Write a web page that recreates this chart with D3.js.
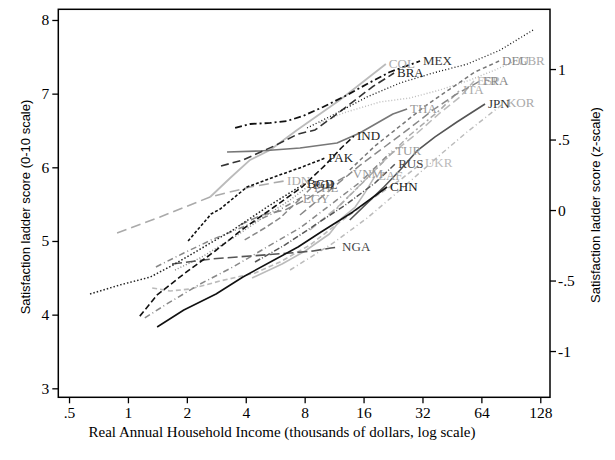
<!DOCTYPE html>
<html><head><meta charset="utf-8">
<script src="https://cdn.jsdelivr.net/npm/d3@7"></script>
<style>body{margin:0;background:#fff}svg{display:block}</style>
</head><body><svg id="c" width="615" height="460"></svg>
<script>
// ---- data: [income (thousands $), satisfaction ladder score] ----
const xTicks = [0.5, 1, 2, 4, 8, 16, 32, 64, 128];
const xTickLabels = [".5", "1", "2", "4", "8", "16", "32", "64", "128"];
const yTicks = [3, 4, 5, 6, 7, 8];
const zTicks = [-1, -0.5, 0, 0.5, 1];
const zTickLabels = ["-1", "-.5", "0", ".5", "1"];
const zMean = 5.42, zSd = 1.914;

const USA = [[8.23,6.534],[11.17,6.71],[16.67,6.955],[24.6,7.145],[36.2,7.28],[54.0,7.40],[79.7,7.59],[120,7.878]];
const COL = [[2.63,5.597],[3.33,5.855],[4.21,6.10],[5.33,6.235],[7.32,6.507],[12.1,6.914],[20.8,7.403]];
const MEX = [[3.53,6.534],[4.21,6.588],[5.33,6.602],[6.50,6.629],[7.85,6.697],[9.93,6.819],[12.9,6.968],[16.66,7.131],[21.8,7.294],[31.1,7.443]];
const BRA = [[2.99,6.018],[3.87,6.10],[5.58,6.289],[7.40,6.452],[9.04,6.507],[11.7,6.724],[17.7,7.09],[22.9,7.28]];
const THA = [[3.21,6.208],[4.73,6.222],[7.57,6.262],[11.7,6.33],[15.3,6.466],[22.6,6.724],[26.7,6.792]];
const IND = [[1.15,3.98],[1.41,4.267],[1.93,4.552],[2.79,4.864],[3.87,5.163],[5.58,5.461],[7.76,5.733],[10.2,6.031],[12.3,6.262],[14.3,6.425]];
const PAK = [[2.03,5.0],[2.66,5.366],[2.96,5.434],[4.06,5.733],[5.58,5.869],[7.76,6.004],[10.2,6.127]];
const NGA = [[1.68,4.687],[2.66,4.755],[4.21,4.796],[6.74,4.837],[8.83,4.864],[10.9,4.905],[12.0,4.918]];
const CHN = [[1.41,3.832],[1.93,4.063],[2.82,4.28],[3.87,4.511],[5.58,4.742],[7.40,4.918],[9.70,5.122],[14.1,5.394],[21.1,5.733]];
const JPN = [[13.6,5.285],[20.1,5.72],[24.6,5.964],[30.0,6.222],[37.1,6.412],[48.0,6.615],[66.8,6.86]];
const KOR = [[6.74,4.606],[11.2,4.973],[16.7,5.312],[24.6,5.692],[39.3,6.167],[54.1,6.48],[83.5,6.873]];
const UKR = [[1.33,4.362],[1.64,4.321],[2.08,4.348],[2.96,4.457],[4.46,4.565],[5.99,4.715],[8.52,4.946],[12.1,5.258],[17.3,5.556],[24.6,5.828],[31.8,6.059]];
const TUR = [[1.22,3.955],[1.58,4.145],[2.34,4.416],[3.44,4.647],[5.14,4.918],[7.57,5.176],[10.8,5.488],[15.4,5.801],[22.4,6.222]];
const ZAF = [[4.31,4.497],[6.13,4.687],[8.04,4.864],[10.7,5.095],[12.4,5.312],[14.5,5.461],[16.3,5.66],[18.3,5.88]];
const RUS = [[4.46,4.715],[6.35,4.946],[9.04,5.217],[12.9,5.488],[18.3,5.787],[23.2,6.045]];
const VNM = [[3.74,5.217],[4.84,5.353],[6.35,5.421],[8.04,5.556],[10.2,5.719],[13.6,5.909]];
const EGY = [[3.95,5.014],[5.0,5.176],[5.99,5.312],[7.57,5.57]];
const PHL = [[1.39,4.647],[1.93,4.837],[2.66,5.013],[3.87,5.19],[5.58,5.38],[7.76,5.597],[8.62,5.719]];
const POL = [[1.74,4.606],[2.34,4.769],[3.44,5.04],[5.14,5.353],[6.74,5.556],[8.52,5.76]];
const BGD = [[0.64,4.28],[0.9,4.40],[1.30,4.51],[1.70,4.674],[2.34,4.89],[3.44,5.149],[5.14,5.461],[7.94,5.774]];
const IDN = [[0.88,5.108],[1.46,5.326],[2.63,5.597],[4.21,5.733],[6.28,5.814]];
const DEU = [[13.6,5.964],[18.3,6.29],[24.6,6.561],[33.0,6.832],[44.2,7.063],[59.4,7.294],[78.8,7.443]];
const FRA = [[7.57,5.353],[10.8,5.692],[15.4,6.031],[21.1,6.303],[27.6,6.534],[36.2,6.778],[46.9,6.982],[63.0,7.172]];
const ESP = [[8.52,5.149],[12.1,5.488],[16.3,5.828],[21.8,6.167],[29.3,6.439],[39.3,6.737],[49.8,6.955],[58.7,7.172]];
const ITA = [[10.8,5.353],[15.4,5.76],[20.6,6.099],[27.6,6.439],[39.3,6.778],[49.8,7.05]];
const GBR = [[9.59,6.602],[12.6,6.737],[19.4,6.887],[27.6,6.941],[39.3,7.05],[56.0,7.185],[75.1,7.321],[95.1,7.443]];

const countryCodes = ["UKR","ZAF","KOR","ESP","ITA","GBR","IDN","COL","TUR","PHL","POL","EGY","VNM","FRA","DEU","THA","NGA","JPN","RUS","BGD","BRA","PAK","IND","MEX","CHN","USA"];
const countryData = {USA,COL,MEX,BRA,THA,IND,PAK,NGA,CHN,JPN,KOR,UKR,TUR,ZAF,RUS,VNM,EGY,PHL,POL,BGD,IDN,DEU,FRA,ESP,ITA,GBR};
const unlabeled = ["USA"];

// ---- styles: stroke, dasharray, width, label colour ----
const styles = {
  USA:["#111","1,2.2",1.3,"#111"],
  COL:["#bbb",null,1.8,"#aaa"],
  MEX:["#111","7,3,2,3",1.8,"#333"],
  BRA:["#333","8,4",1.6,"#222"],
  THA:["#777",null,1.6,"#999"],
  IND:["#111","6,3",1.6,"#222"],
  PAK:["#111","3,2",1.6,"#222"],
  NGA:["#555","10,4",1.6,"#444"],
  CHN:["#111",null,1.6,"#111"],
  JPN:["#555",null,1.6,"#333"],
  KOR:["#bbb","5,3,1,3",1.5,"#aaa"],
  UKR:["#bbb","5,3",1.6,"#bbb"],
  TUR:["#888","6,3,1,3",1.5,"#999"],
  ZAF:["#bbb",null,1.6,"#aaa"],
  RUS:["#555","6,2,1,2",1.5,"#444"],
  VNM:["#888","8,4",1.5,"#999"],
  EGY:["#888","6,3",1.5,"#999"],
  PHL:["#888","6,3,1,3",1.5,"#999"],
  POL:["#888","1,2",1.4,"#555"],
  BGD:["#222","1.5,2",1.5,"#222"],
  IDN:["#aaa","10,5",1.6,"#aaa"],
  DEU:["#777","4,3",1.5,"#888"],
  FRA:["#888","8,4",1.5,"#888"],
  ESP:["#bbb","8,4",1.5,"#bbb"],
  ITA:["#aaa","6,3,2,3",1.5,"#aaa"],
  GBR:["#bbb","1,2",1.4,"#aaa"]
};

const svg = d3.select("#c");
const pLeft = 58.3, pRight = 550, pTop = 9.3, pBottom = 397.3;
const x = d3.scaleLog().base(2).domain([0.4407, 143.5]).range([pLeft, pRight]);
const yDom = [2.878, 8.145];
const y = d3.scaleLinear().domain(yDom).range([pBottom, pTop]);
const z = d3.scaleLinear().domain(yDom.map(v => (v - zMean) / zSd)).range([pBottom, pTop]);
const font = "'Liberation Serif','Times New Roman',serif";
const sans = "'Liberation Sans',Arial,sans-serif";

// lines
const line = d3.line().x(d => x(d[0])).y(d => y(d[1])).curve(d3.curveLinear);
const g = svg.append("g");
countryCodes.forEach(c => {
  const s = styles[c];
  g.append("path").datum(countryData[c]).attr("d", line)
    .attr("fill", "none").attr("stroke", s[0]).attr("stroke-width", s[2])
    .attr("stroke-dasharray", s[1]).attr("stroke-linejoin", "round");
});
countryCodes.filter(c => !unlabeled.includes(c)).forEach(c => {
  const d = countryData[c], last = d[d.length - 1];
  g.append("text").attr("x", x(last[0]) + 3).attr("y", y(last[1]) + 4)
    .attr("font-family", font).attr("font-size", 13).attr("fill", styles[c][3]).text(c);
});

// frame
svg.append("rect").attr("x", pLeft).attr("y", pTop).attr("width", pRight - pLeft).attr("height", pBottom - pTop)
  .attr("fill", "none").attr("stroke", "#000").attr("stroke-width", 1.5);

function styleAxis(sel) {
  sel.select(".domain").remove();
  sel.selectAll(".tick line").attr("stroke", "#000").attr("stroke-width", 1.3);
  sel.selectAll(".tick text").attr("font-family", font).attr("font-size", 15.5).attr("fill", "#000");
}
svg.append("g").attr("transform", `translate(0,${pBottom})`)
  .call(d3.axisBottom(x).tickValues(xTicks).tickFormat((d, i) => xTickLabels[i]).tickSize(6).tickPadding(4))
  .call(styleAxis);
svg.append("g").attr("transform", `translate(${pLeft},0)`)
  .call(d3.axisLeft(y).tickValues(yTicks).tickFormat(d3.format("d")).tickSize(6).tickPadding(3))
  .call(styleAxis);
svg.append("g").attr("transform", `translate(${pRight},0)`)
  .call(d3.axisRight(z).tickValues(zTicks).tickFormat((d, i) => zTickLabels[i]).tickSize(6).tickPadding(2))
  .call(styleAxis);

// titles
svg.append("text").attr("x", 282).attr("y", 437).attr("text-anchor", "middle")
  .attr("font-family", font).attr("font-size", 15).text("Real Annual Household Income (thousands of dollars, log scale)");
svg.append("text").attr("transform", "translate(30,207) rotate(-90)").attr("text-anchor", "middle")
  .attr("font-family", sans).attr("font-size", 13).text("Satisfaction ladder score (0-10 scale)");
svg.append("text").attr("transform", "translate(600,205) rotate(-90)").attr("text-anchor", "middle")
  .attr("font-family", sans).attr("font-size", 13).text("Satisfaction ladder score (z-scale)");
</script></body></html>
